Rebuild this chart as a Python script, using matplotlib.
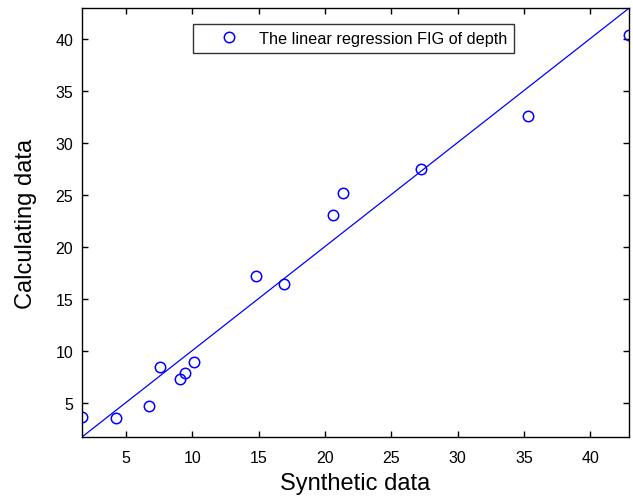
import matplotlib
matplotlib.use("Agg")
import matplotlib.pyplot as plt

plt.rcParams['font.family'] = ['Liberation Sans', 'DejaVu Sans']

# Synthetic vs calculated depth values
synthetic = [1.66, 4.22, 6.76, 7.56, 9.07, 9.47, 10.13, 14.80, 16.89,
             20.59, 21.39, 27.22, 35.32, 42.94]
calculated = [3.63, 3.53, 4.62, 8.46, 7.22, 7.83, 8.85, 17.21, 16.38,
              23.00, 25.19, 27.48, 32.51, 40.31]

# fitted line end points
line_x = [1.66, 42.94]
line_y = [1.66, 42.94]

xticks = [5, 10, 15, 20, 25, 30, 35, 40]
yticks = [5, 10, 15, 20, 25, 30, 35, 40]

fig = plt.figure(figsize=(6.33, 5.02), dpi=100)
ax = fig.add_axes([0.129, 0.127, 0.865, 0.855])

ax.plot(synthetic, calculated, linestyle="none", marker="o", markersize=7.5,
        markerfacecolor="none", markeredgecolor="#0000ff", markeredgewidth=1.1,
        label="The linear regression FIG of depth")
ax.plot(line_x, line_y, color="#0000ff", linewidth=0.9)

ax.set_xlim(line_x[0], line_x[1])
ax.set_ylim(line_y[0], line_y[1])
ax.set_xticks(xticks)
ax.set_yticks(yticks)
ax.tick_params(direction="in", length=4.3, width=1, top=True, right=True,
               labelsize=11.5)
ax.tick_params(axis="x", pad=9.5)
ax.tick_params(axis="y", pad=6)
for s in ax.spines.values():
    s.set_linewidth(1)

ax.set_xlabel("Synthetic data", fontsize=17, labelpad=5)
ax.set_ylabel("Calculating data", fontsize=17, labelpad=13)

leg = ax.legend(loc="upper left", bbox_to_anchor=(0.2034, 0.9634),
                borderaxespad=0, fontsize=11.7, frameon=True, fancybox=False,
                edgecolor="black", handlelength=3.5, handletextpad=0.1,
                borderpad=0.45)
leg.get_frame().set_linewidth(1)

fig.savefig("out.png", dpi=100)
